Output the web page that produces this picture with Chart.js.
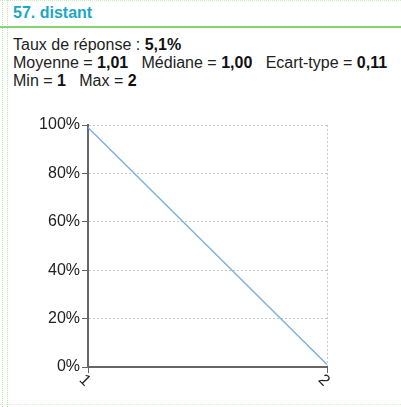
<!DOCTYPE html>
<html><head><meta charset="utf-8">
<script src="https://cdn.jsdelivr.net/npm/chart.js@4/dist/chart.umd.min.js"></script>
<style>
html,body{margin:0;padding:0;background:#fff;}
#wrap{position:relative;width:401px;height:407px;overflow:hidden;font-family:"Liberation Sans",Arial,sans-serif;}
.vl{position:absolute;top:0;bottom:0;width:0;border-left:1px dotted #b8e6a8;}
#topl{position:absolute;left:0;right:0;top:0;height:0;border-top:1px dotted #c8eebc;}
#botl{position:absolute;left:0;right:0;top:404px;height:0;border-top:1px dotted #d8f2d0;}
#hline{position:absolute;left:0;right:0;top:26px;height:2px;background:#86d46e;}
#title{position:absolute;left:13px;top:4px;font-size:16px;font-weight:bold;color:#1ba7c9;}
.st{position:absolute;left:13px;font-size:16px;color:#222;white-space:pre;}
.st b{color:#111;}
#cv{position:absolute;left:0;top:100px;}
</style></head><body>
<div id="wrap">
<div id="topl"></div>
<div class="vl" style="left:2px"></div>
<div class="vl" style="left:7px"></div>
<div id="hline"></div>
<div id="title">57. distant</div>
<div class="st" style="top:36px">Taux de réponse : <b>5,1%</b></div>
<div class="st" style="top:54px">Moyenne = <b>1,01</b>   Médiane = <b>1,00</b>   Ecart-type = <b>0,11</b></div>
<div class="st" style="top:72px">Min = <b>1</b>   Max = <b>2</b></div>
<div id="botl"></div>
<canvas id="cv" width="401" height="307"></canvas>
</div>
<script>
const categories = ["1", "2"];
const percentValues = [99, 1];
const yTicks = [0, 20, 40, 60, 80, 100];

new Chart(document.getElementById('cv'), {
  type: 'line',
  data: {
    labels: categories,
    datasets: [{
      data: percentValues,
      borderColor: '#7eb1e3',
      borderWidth: 1.5,
      pointRadius: 0,
      tension: 0,
      fill: false
    }]
  },
  options: {
    responsive: false,
    animation: false,
    plugins: { legend: { display: false }, tooltip: { enabled: false } },
    layout: { padding: { left: 0, right: 74, top: 25, bottom: 8 } },
    scales: {
      x: {
        type: 'category',
        offset: false,
        afterFit: s => { s.height = 32; },
        border: { display: true, color: '#666', width: 2, dash: [2, 2] },
        grid: {
          color: (ctx) => ctx.index === 0 ? 'rgba(0,0,0,0)' : '#c8c8c8',
          lineWidth: 1,
          drawTicks: true,
          tickLength: 6,
          tickColor: '#666',
          tickBorderDash: [1, 0]
        },
        ticks: {
          color: '#222',
          font: { family: 'Liberation Sans', size: 16 },
          minRotation: -45, maxRotation: -45,
          padding: 4
        }
      },
      y: {
        min: 0, max: 100,
        afterFit: s => { s.width = 88; },
        afterBuildTicks: s => { s.ticks = yTicks.map(v => ({ value: v })); },
        border: { display: true, color: '#666', width: 2, dash: [2, 2] },
        grid: {
          color: '#c8c8c8',
          lineWidth: 1,
          tickLength: 6,
          tickColor: '#666',
          tickBorderDash: [1, 0]
        },
        ticks: {
          color: '#222',
          font: { family: 'Liberation Sans', size: 16 },
          padding: 2,
          callback: v => v + '%'
        }
      }
    }
  }
});
</script>
</body></html>
